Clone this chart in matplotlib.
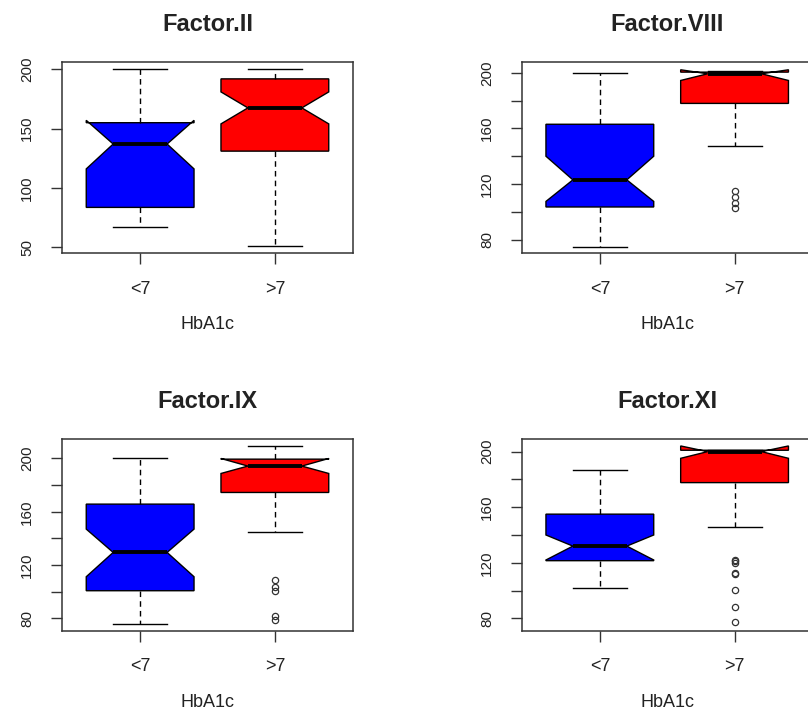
import matplotlib
matplotlib.use('Agg')
import matplotlib.pyplot as plt

# -------------------------------
# Data
# -------------------------------
titles = ["Factor.II", "Factor.VIII", "Factor.IX", "Factor.XI"]
groups = ["<7", ">7"]
box_colors = ["#0000FF", "#FF0000"]

# one [<7, >7] pair per panel
whislo = [[67, 51], [74.5, 147.5], [75.75, 145], [101.6, 146]]
q1 = [[83.5, 131], [103.5, 178], [100.75, 174.5], [121.5, 177.7]]
cilo = [[116, 154], [107.5, 194.5], [111.25, 188.75], [122, 195.2]]
med = [[137, 167.5], [123, 199.3], [129.5, 194.3], [132, 200]]
cihi = [[157, 181], [140, 202.2], [147, 200], [140, 204.1]]
q3 = [[155, 192], [163, 200.5], [165.75, 199.5], [155, 201]]
whishi = [[200, 200], [200, 201.5], [200, 209.5], [186.8, 201]]
fliers = [
    [[], []],
    [[], [115, 110.5, 106.5, 102.5]],
    [[], [108.5, 103.5, 100.5, 82, 78.5]],
    [[], [120, 121, 122, 112, 112.5, 100.5, 88.5, 77.5]],
]

y_ticks = [[50, 100, 150, 200], list(range(80, 201, 20)),
           list(range(80, 201, 20)), list(range(80, 201, 20))]
y_labels = [[50, 100, 150, 200], [80, 120, 160, 200],
            [80, 120, 160, 200], [80, 120, 160, 200]]
y_lims = [(45, 206.5), (70.4, 208), (70.75, 215), (71.1, 209.1)]

# -------------------------------
# Figure
# -------------------------------
plt.rcParams['font.family'] = ['Liberation Sans', 'DejaVu Sans']
fig = plt.figure(figsize=(8.08, 7.12), dpi=100)

# axes rectangles in pixels: left, top, right, bottom
rects_px = [(62, 61.7, 353, 253), (521.7, 61.7, 812.7, 253),
            (62, 438.5, 353, 630.7), (521.7, 439, 812.7, 630.7)]
W, H = 808, 712
text_col = "#222222"

for i, title in enumerate(titles):
    l, t, r, b = rects_px[i]
    ax = fig.add_axes([l / W, (H - b) / H, (r - l) / W, (b - t) / H])

    stats = []
    for j in range(2):
        stats.append(dict(whislo=whislo[i][j], q1=q1[i][j], cilo=cilo[i][j],
                          med=med[i][j], cihi=cihi[i][j], q3=q3[i][j],
                          whishi=whishi[i][j], fliers=fliers[i][j]))

    bp = ax.bxp(stats, positions=[1, 2], widths=0.8, shownotches=True,
                patch_artist=True,
                boxprops=dict(edgecolor='black', linewidth=1.0),
                medianprops=dict(color='black', linewidth=2.8, solid_capstyle='butt'),
                whiskerprops=dict(color='black', linewidth=1.0, linestyle=(0, (4, 3))),
                capprops=dict(color='black', linewidth=1.0),
                flierprops=dict(marker='o', markerfacecolor='none',
                                markeredgecolor='#333333', markersize=4.5,
                                markeredgewidth=0.9, linestyle='none'))
    for patch, c in zip(bp['boxes'], box_colors):
        patch.set_facecolor(c)

    ax.set_xlim(0.42, 2.58)
    ax.set_ylim(*y_lims[i])
    ax.set_xticks([1, 2])
    ax.set_xticklabels(groups, fontsize=13, color=text_col)
    ax.set_yticks(y_ticks[i])
    ax.set_yticklabels([str(v) if v in y_labels[i] else "" for v in y_ticks[i]],
                       fontsize=11, color=text_col, rotation=90, va='center')
    ax.tick_params(axis='both', length=8, width=1, color='#333333')
    ax.tick_params(axis='x', pad=12)
    ax.tick_params(axis='y', pad=12)
    for sp in ax.spines.values():
        sp.set_linewidth(1.1)
        sp.set_color('#333333')

    ax.set_title(title, fontsize=17, fontweight='bold', pad=22, color=text_col)
    ax.set_xlabel("HbA1c", fontsize=13, labelpad=13, color=text_col)

fig.savefig("out.png", dpi=100)
